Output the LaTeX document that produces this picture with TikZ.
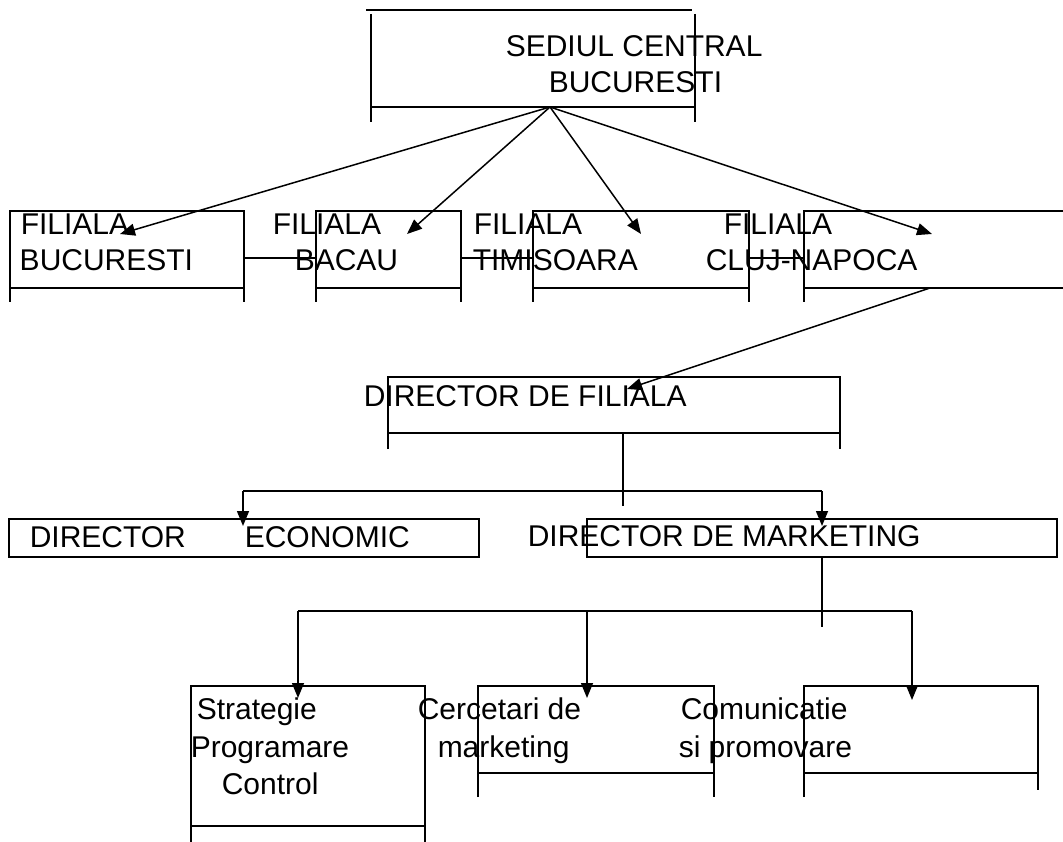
\documentclass[tikz,border=0pt]{standalone}
\usepackage{fontspec}
\setmainfont{Liberation Sans}
\usetikzlibrary{arrows.meta}
\begin{document}
\begin{tikzpicture}[x=1pt,y=-1pt,line width=1.5pt,
  lbl/.style={anchor=base west,inner sep=0pt,font=\fontsize{30}{35}\selectfont},
  arr/.style={-{Triangle[length=15pt,width=12pt]}}]
\useasboundingbox (0,0) rectangle (1063,842);
% ---------- boxes (open Word-style frames) ----------
% top box
\draw (366,10) -- (692,10);
\draw (371,14) -- (371,122) (695,14) -- (695,122) (371,107) -- (695,107);
% filiala boxes
\foreach \l/\r in {10/244,316/461,533/749}{
  \draw (\l,302) -- (\l,211) -- (\r,211) -- (\r,302);
  \draw (\l,288) -- (\r,288);
}
\draw (1063,211) -- (804,211) -- (804,302);
\draw (804,288) -- (1063,288);
% director de filiala
\draw (388,449) -- (388,377) -- (840,377) -- (840,449);
\draw (388,433) -- (840,433);
% director economic / marketing
\draw (9,519) rectangle (479,557);
\draw (587,519) rectangle (1057,557);
% bottom boxes
\draw (191,842) -- (191,686) -- (425,686) -- (425,842);
\draw (191,826) -- (425,826);
\draw (478,797) -- (478,686) -- (714,686) -- (714,797);
\draw (478,773) -- (714,773);
\draw (804,797) -- (804,686) -- (1038,686) -- (1038,790);
\draw (804,773) -- (1038,773);
% ---------- texts ----------
\node[lbl] (sed1) at (505,57) {SEDIUL CENTRAL};
\node[lbl] (sed2) at (548,93) {BUCURESTI};
\node[lbl] (f1a) at (20,235) {FILIALA};
\node[lbl] (f1b) at (19,271) {BUCURESTI};
\node[lbl] (f2a) at (272,235) {FILIALA};
\node[lbl] (f2b) at (294,271) {BACAU};
\node[lbl] (f3a) at (473,235) {FILIALA};
\node[lbl] (f3b) at (472,271) {TIMISOARA};
\node[lbl] (f4a) at (723,235) {FILIALA};
\node[lbl] (f4b) at (705,271) {CLUJ-NAPOCA};
\node[lbl] (dfil) at (363,406) {DIRECTOR DE FILIALA};
\node[lbl] (deco1) at (29,547) {DIRECTOR};
\node[lbl] (deco2) at (244,547) {ECONOMIC};
\node[lbl] (dmkt) at (527,546) {DIRECTOR DE MARKETING};
\node[lbl] (s1) at (196,719) {Strategie};
\node[lbl] (s2) at (190,757) {Programare};
\node[lbl] (s3) at (221,794) {Control};
\node[lbl] (c1) at (417,719) {Cercetari de};
\node[lbl] (c2) at (437,757) {marketing};
\node[lbl] (p1) at (680,719) {Comunicatie};
\node[lbl] (p2) at (678,757) {si promovare};
% ---------- connector points ----------
\coordinate (apex) at (550,107);
\coordinate (t1) at (120,234);
\coordinate (t2) at (407,234);
\coordinate (t3) at (641,234);
\coordinate (t4) at (932,234);
\coordinate (b1r) at (244,258);
\coordinate (b2l) at (316,258);
\coordinate (b2r) at (461,258);
\coordinate (b3l) at (533,258);
\coordinate (b3r) at (749,258);
\coordinate (b4l) at (804,258);
\coordinate (clujb) at (930,288);
\coordinate (dfilt) at (627,389);
\coordinate (dfilb) at (623,433);
\coordinate (dfilj) at (623,506);
\coordinate (hl) at (243,491);
\coordinate (hr) at (822,491);
\coordinate (ecot) at (243,526);
\coordinate (mktt) at (822,526);
\coordinate (mktb) at (822,557);
\coordinate (mktj) at (822,627);
\coordinate (bl) at (298,611);
\coordinate (bm) at (587,611);
\coordinate (br) at (912,611);
\coordinate (st) at (298,698);
\coordinate (ct) at (587,698);
\coordinate (pt) at (912,700);
% ---------- connectors ----------
\foreach \t in {t1,t2,t3,t4} \draw[arr] (apex) -- (\t);
\draw (b1r) -- (b2l);
\draw (b2r) -- (b3l);
\draw (b3r) -- (b4l);
\draw[arr] (clujb) -- (dfilt);
\draw (dfilb) -- (dfilj);
\draw (hl) -- (hr);
\draw[arr] (hl) -- (ecot);
\draw[arr] (hr) -- (mktt);
\draw (mktb) -- (mktj);
\draw (bl) -- (br);
\draw[arr] (bl) -- (st);
\draw[arr] (bm) -- (ct);
\draw[arr] (br) -- (pt);
\end{tikzpicture}
\end{document}
